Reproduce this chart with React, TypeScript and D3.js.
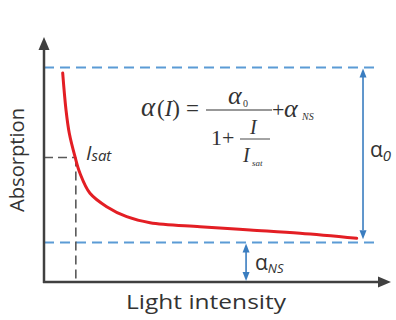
import React from "react";
import * as d3 from "d3";

// Light intensity (arbitrary units, 0-100)
const intensity = [5.4, 6.36, 7.31, 8.96, 10.4, 13.29, 18.12, 23.9, 30.64, 45.09, 59.54, 73.99, 90.38];
// Absorption (arbitrary units, 0-100)
const absorption = [85.31, 70.2, 60.69, 51.14, 44.37, 36.2, 30.73, 26.65, 24.2, 22.57, 21.22, 19.88, 17.84];

const alpha0Level = 87.6; // top dashed level
const alphaNSLevel = 16.1; // bottom dashed level
const iSat = 9.2;
const iSatLevel = 50.8;
const alpha0ArrowX = 92.2;
const alphaNSArrowX = 58.4;

const W = 396;
const H = 320;

export default function App() {
  const x = d3.scaleLinear().domain([0, 100]).range([44, 390]);
  const y = d3.scaleLinear().domain([0, 100]).range([282, 37]);
  const pts: [number, number][] = intensity.map((v, i) => [v, absorption[i]]);
  const line = d3
    .line<[number, number]>()
    .x((d) => x(d[0]))
    .y((d) => y(d[1]))
    .curve(d3.curveCatmullRom.alpha(0.5));

  const axisColor = "#404040";
  const blueDash = "#5b9bd5";
  const blueArrow = "#3a7dc0";
  const txt = "#333";
  const sans = "'Open Sans', 'Liberation Sans', sans-serif";
  const serif = "'Liberation Serif', 'DejaVu Serif', serif";

  const x0 = x(0);
  const y0 = y(0);
  const yTop = y(alpha0Level);
  const yNS = y(alphaNSLevel);
  const xa0 = x(alpha0ArrowX);
  const xaNS = x(alphaNSArrowX);
  const yEnd = y(absorption[absorption.length - 1]);

  const dArrow = (cx: number, tipY: number, dir: number) =>
    `M${cx},${tipY} L${cx - 3.5},${tipY - dir * 9} L${cx + 3.5},${tipY - dir * 9} Z`;

  return (
    <svg width={W} height={H} style={{ position: "absolute", left: 0, top: 0 }}>
      <rect width={W} height={H} fill="#fff" />
      {/* dashed horizontal levels */}
      <line x1={x0} x2={x(96.4)} y1={yTop} y2={yTop} stroke={blueDash} strokeWidth={2} strokeDasharray="10 6" />
      <line x1={x0} x2={x(96.4)} y1={yNS} y2={yNS} stroke={blueDash} strokeWidth={2} strokeDasharray="10 6" />
      {/* Isat guides */}
      <line x1={x0} x2={x(iSat)} y1={y(iSatLevel)} y2={y(iSatLevel)} stroke="#595959" strokeWidth={1.6} strokeDasharray="9 5" />
      <line x1={x(iSat)} x2={x(iSat)} y1={y(iSatLevel)} y2={y0} stroke="#595959" strokeWidth={1.6} strokeDasharray="9 5" />
      {/* axes */}
      <line x1={x0} x2={x0} y1={y0 + 1} y2={48} stroke={axisColor} strokeWidth={2.5} />
      <path d={`M${x0},37 L${x0 - 5.5},50 L${x0 + 5.5},50 Z`} fill={axisColor} />
      <line x1={x0 - 1} x2={379} y1={y0} y2={y0} stroke={axisColor} strokeWidth={2.5} />
      <path d={`M391,${y0} L378,${y0 - 5.5} L378,${y0 + 5.5} Z`} fill={axisColor} />
      {/* curve */}
      <path d={line(pts) || ""} fill="none" stroke="#e31e24" strokeWidth={3} strokeLinecap="round" />
      {/* alpha0 arrow */}
      <line x1={xa0} x2={xa0} y1={yTop + 8} y2={yEnd - 8} stroke={blueArrow} strokeWidth={1.6} />
      <path d={dArrow(xa0, yTop + 1, -1)} fill={blueArrow} />
      <path d={dArrow(xa0, yEnd + 1, 1)} fill={blueArrow} />
      {/* alphaNS arrow */}
      <line x1={xaNS} x2={xaNS} y1={yNS + 8} y2={y0 - 8} stroke={blueArrow} strokeWidth={1.6} />
      <path d={dArrow(xaNS, yNS + 1, -1)} fill={blueArrow} />
      <path d={dArrow(xaNS, y0 - 1, 1)} fill={blueArrow} />
      {/* labels */}
      <text x={370} y={157} fontFamily={sans} fontSize={21} fill={txt}>
        α<tspan fontStyle="italic" fontSize={15} dy={4}>0</tspan>
      </text>
      <text x={255} y={270} fontFamily={sans} fontSize={21} fill={txt}>
        α<tspan fontStyle="italic" fontSize={13} dy={3}>NS</tspan>
      </text>
      <text x={86} y={160} fontFamily={sans} fontStyle="italic" fontSize={20} fill={txt}>
        I<tspan fontSize={15} dy={1}>sat</tspan>
      </text>
      {/* formula */}
      <g fontFamily={serif} fill={txt}>
        <text x={141} y={116} fontSize={27} fontStyle="italic">α</text>
        <text x={157} y={116} fontSize={23}>
          (<tspan fontStyle="italic">I</tspan>)
        </text>
        <text x={186} y={116} fontSize={23}>=</text>
        <line x1={206} x2={272} y1={110} y2={110} stroke={txt} strokeWidth={1.2} />
        <text x={228} y={104} fontSize={26} fontStyle="italic">α</text>
        <text x={243} y={107} fontSize={10}>0</text>
        <text x={272} y={117} fontSize={22}>+</text>
        <text x={284} y={117} fontSize={26} fontStyle="italic">α</text>
        <text x={302} y={120} fontSize={10} fontStyle="italic">NS</text>
        <text x={211} y={145} fontSize={22}>1+</text>
        <text x={250} y={134} fontSize={20} fontStyle="italic">I</text>
        <line x1={240} x2={270} y1={139} y2={139} stroke={txt} strokeWidth={0.9} />
        <text x={243} y={162} fontSize={20} fontStyle="italic">I</text>
        <text x={252} y={166} fontSize={9} fontStyle="italic">sat</text>
      </g>
      <text
        x={206}
        y={309}
        textAnchor="middle"
        fontFamily={sans}
        fontSize={20}
        fill={txt}
        textLength={160}
        lengthAdjust="spacingAndGlyphs"
      >
        Light intensity
      </text>
      <text
        transform="translate(24,160) rotate(-90)"
        textAnchor="middle"
        fontFamily={sans}
        fontSize={20}
        fill={txt}
        textLength={104}
        lengthAdjust="spacingAndGlyphs"
      >
        Absorption
      </text>
    </svg>
  );
}
